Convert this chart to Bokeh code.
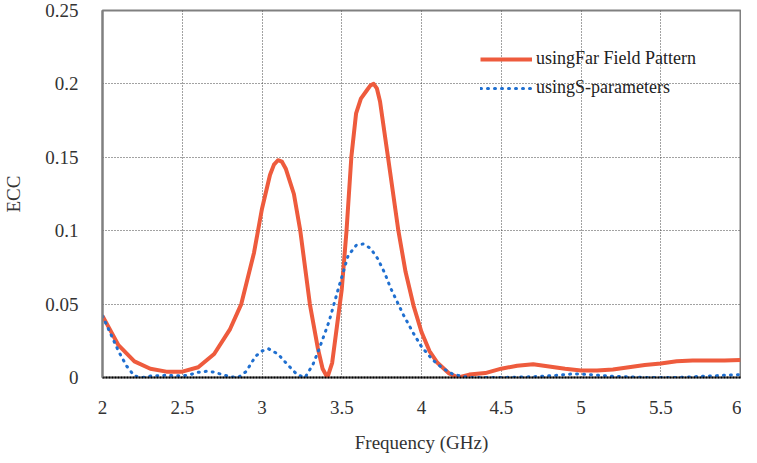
from bokeh.plotting import figure
from bokeh.models import Legend, LegendItem, FixedTicker, Range1d
from bokeh.embed import file_html
from bokeh.resources import INLINE

# Far Field Pattern series (red)
freq_far = [2.0, 2.1, 2.2, 2.3, 2.4, 2.5, 2.6, 2.7, 2.8, 2.87, 2.95, 3.0, 3.05, 3.075, 3.1,
            3.125, 3.15, 3.2, 3.24, 3.3, 3.35, 3.38, 3.41, 3.44, 3.47, 3.5, 3.53, 3.56, 3.59,
            3.62, 3.66, 3.68, 3.70, 3.72, 3.74, 3.79, 3.855, 3.9, 3.95, 4.0, 4.05, 4.1, 4.17,
            4.23, 4.3, 4.4, 4.5, 4.6, 4.7, 4.8, 4.9, 5.0, 5.1, 5.2, 5.3, 5.4, 5.5, 5.6, 5.7,
            5.8, 5.9, 6.0]
ecc_far = [0.042, 0.022, 0.011, 0.006, 0.004, 0.004, 0.007, 0.016, 0.033, 0.05, 0.085, 0.115,
           0.138, 0.145, 0.148, 0.147, 0.142, 0.125, 0.1, 0.05, 0.02, 0.006, 0.0, 0.01, 0.035,
           0.06, 0.1, 0.15, 0.18, 0.19, 0.196, 0.199, 0.2, 0.197, 0.188, 0.15, 0.1, 0.072,
           0.049, 0.031, 0.018, 0.01, 0.003, 0.0, 0.002, 0.003, 0.006, 0.008, 0.009, 0.0075,
           0.006, 0.0048, 0.0048, 0.0055, 0.007, 0.0085, 0.0095, 0.011, 0.0115, 0.0115,
           0.0115, 0.012]

# S-parameters series (blue)
freq_s = [2.0, 2.05, 2.1, 2.15, 2.2, 2.25, 2.3, 2.4, 2.5, 2.55, 2.6, 2.65, 2.7, 2.75, 2.8,
          2.85, 2.9, 2.96, 3.0, 3.04, 3.1, 3.16, 3.22, 3.27, 3.32, 3.36, 3.42, 3.48, 3.54,
          3.59, 3.635, 3.68, 3.725, 3.77, 3.806, 3.85, 3.887, 3.95, 4.0, 4.07, 4.13, 4.2,
          4.3, 4.5, 4.7, 4.85, 4.95, 5.05, 5.2, 5.4, 5.6, 5.8, 6.0]
ecc_s = [0.042, 0.03, 0.018, 0.008, 0.001, 0.0, 0.001, 0.0015, 0.001, 0.002, 0.0035, 0.0042,
         0.0037, 0.002, 0.0005, 0.0, 0.004, 0.0145, 0.018, 0.0196, 0.016, 0.0088, 0.002, 0.0,
         0.009, 0.02, 0.038, 0.061, 0.083, 0.09, 0.091, 0.088, 0.081, 0.071, 0.061, 0.051,
         0.0426, 0.03, 0.021, 0.012, 0.0065, 0.002, 0.0, 0.0, 0.0005, 0.0015, 0.0025, 0.002,
         0.0008, 0.0, 0.0, 0.001, 0.002]

x_ticks = [2, 2.5, 3, 3.5, 4, 4.5, 5, 5.5, 6]
x_tick_labels = ["2", "2.5", "3", "3.5", "4", "4.5", "5", "5.5", "6"]
y_ticks = [0, 0.05, 0.1, 0.15, 0.2, 0.25]
y_tick_labels = ["0", "0.05", "0.1", "0.15", "0.2", "0.25"]

FONT = "'Liberation Serif', 'Times New Roman', 'DejaVu Serif', serif"

p = figure(width=741, height=455, output_backend="svg", toolbar_location=None,
           x_range=Range1d(2, 6), y_range=Range1d(0, 0.25),
           min_border_left=84, min_border_right=1, min_border_top=10, min_border_bottom=72)

p.outline_line_color = "#808080"
p.outline_line_width = 2
p.background_fill_color = "white"
p.border_fill_color = "white"

p.xaxis.ticker = FixedTicker(ticks=x_ticks)
p.xaxis.major_label_overrides = {t: l for t, l in zip(x_ticks, x_tick_labels)}
p.yaxis.ticker = FixedTicker(ticks=y_ticks)
p.yaxis.major_label_overrides = {t: l for t, l in zip(y_ticks, y_tick_labels)}

for ax in (p.xaxis, p.yaxis):
    ax.major_tick_line_color = None
    ax.minor_tick_line_color = None
    ax.major_label_text_font = FONT
    ax.major_label_text_font_size = "19px"
    ax.major_label_text_color = "#333333"
    ax.axis_label_text_font = FONT
    ax.axis_label_text_font_size = "19px"
    ax.axis_label_text_font_style = "normal"
    ax.axis_label_text_color = "#333333"

p.xaxis.axis_line_color = "black"
p.xaxis.axis_line_width = 2
p.xaxis.axis_line_dash = "2 1"
p.yaxis.axis_line_color = "#808080"
p.yaxis.axis_line_width = 2

p.xaxis.major_label_standoff = 17
p.yaxis.major_label_standoff = 18
p.xaxis.axis_label = "Frequency (GHz)"
p.yaxis.axis_label = "ECC"
p.xaxis.axis_label_standoff = 15
p.yaxis.axis_label_standoff = 18

p.xgrid.grid_line_color = "#444444"
p.xgrid.grid_line_dash = "1 2"
p.xgrid.grid_line_width = 1
p.ygrid.grid_line_color = "#444444"
p.ygrid.grid_line_dash = "1 2"
p.ygrid.grid_line_width = 1

r_far = p.line(freq_far, ecc_far, line_color="#EE5B3D", line_width=4, line_join="round")
r_s = p.line(freq_s, ecc_s, line_color="#1F6FD0", line_width=3, line_dash="1 6",
             line_cap="round", line_join="round")

legend = Legend(items=[LegendItem(label="usingFar Field Pattern", renderers=[r_far]),
                       LegendItem(label="usingS-parameters", renderers=[r_s])],
                location=(378, 279))
legend.border_line_color = None
legend.background_fill_alpha = 0
legend.padding = 0
legend.margin = 0
legend.spacing = 8
legend.glyph_width = 52
legend.glyph_height = 20
legend.label_height = 20
legend.label_standoff = 4
legend.label_text_font = FONT
legend.label_text_font_size = "18px"
legend.label_text_color = "#222222"
p.add_layout(legend, "center")

open("out.html", "w").write(file_html(p, INLINE))
